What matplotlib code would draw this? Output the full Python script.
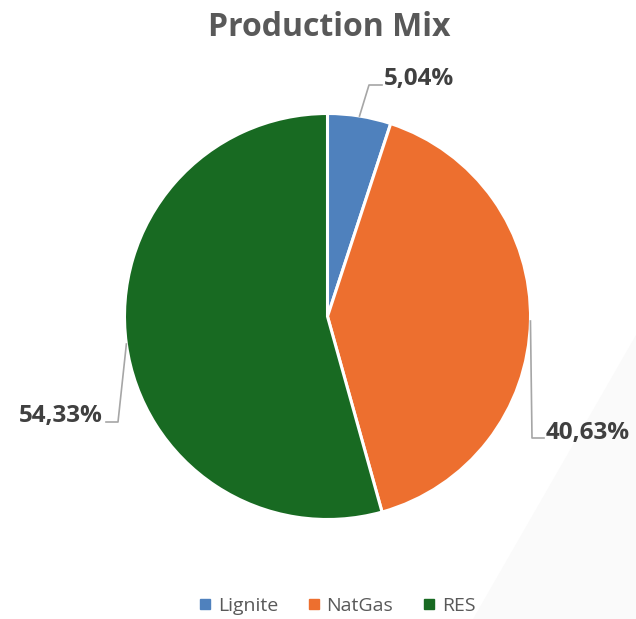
import matplotlib
matplotlib.use("Agg")
import matplotlib.pyplot as plt
import numpy as np
from matplotlib.patches import Polygon
from matplotlib.lines import Line2D

categories = ["Lignite", "NatGas", "RES"]
values = [5.04, 40.63, 54.33]
labels = ["5,04%", "40,63%", "54,33%"]
colors = ["#4F81BD", "#ED6F2F", "#186A22"]

W, H = 636, 619
fig = plt.figure(figsize=(W / 100, H / 100), dpi=100)
fig.patch.set_facecolor("white")

# faint decorative triangle in background
bg = fig.add_axes([0, 0, 1, 1], zorder=0)
bg.set_xlim(0, W); bg.set_ylim(H, 0); bg.axis("off")
bg.add_patch(Polygon([(473, H), (W, 335), (W, H)], closed=True,
                     facecolor="#FAFAFA", edgecolor="none"))

cx, cy, R = 327.5, 316.5, 203
ax = fig.add_axes([(cx - R) / W, (H - cy - R) / H, 2 * R / W, 2 * R / H], zorder=1)
ax.patch.set_alpha(0)
wedges, _ = ax.pie(values, colors=colors, startangle=90, counterclock=False,
                   wedgeprops=dict(edgecolor="white", linewidth=2.2))
ax.set_xlim(-1, 1); ax.set_ylim(-1, 1)
ax.set_aspect("equal")
ax.axis("off")

def d(px, py):
    return ((px - cx) / R, (cy - py) / R)

# label layout: elbow, end of leader, text position, alignment
layout = [
    (d(369, 85), d(382, 85), d(384, 79), "left"),
    (d(532, 438), d(544, 438), d(546, 433), "left"),
    (d(118, 422), d(106, 422), d(103, 416), "right"),
]
for w, lab, (elb, end, tp, ha) in zip(wedges, labels, layout):
    ang = np.deg2rad((w.theta1 + w.theta2) / 2)
    sx, sy = np.cos(ang), np.sin(ang)
    ax.add_line(Line2D([sx, elb[0], end[0]], [sy, elb[1], end[1]],
                       color="#A6A6A6", lw=1.2, clip_on=False))
    ax.text(tp[0], tp[1], lab, ha=ha, va="center", fontsize=17.5,
            fontweight="bold", color="#404040", family="Open Sans", clip_on=False)

fig.text(0.517, 1 - 27 / H, "Production Mix", ha="center", va="center",
         fontsize=23, fontweight="bold", color="#595959", family="Open Sans")

handles = [Line2D([], [], marker="s", linestyle="none", markersize=7,
                  markerfacecolor=c, markeredgecolor=c) for c in colors]
leg = fig.legend(handles, categories, loc="center", bbox_to_anchor=(0.528, 1 - 606 / H),
                 ncol=3, frameon=False, handletextpad=0.2, columnspacing=1.4,
                 handlelength=0.9, prop=dict(family="Open Sans", size=14))
for t in leg.get_texts():
    t.set_color("#595959")

fig.savefig("out.png", dpi=100, facecolor="white")
